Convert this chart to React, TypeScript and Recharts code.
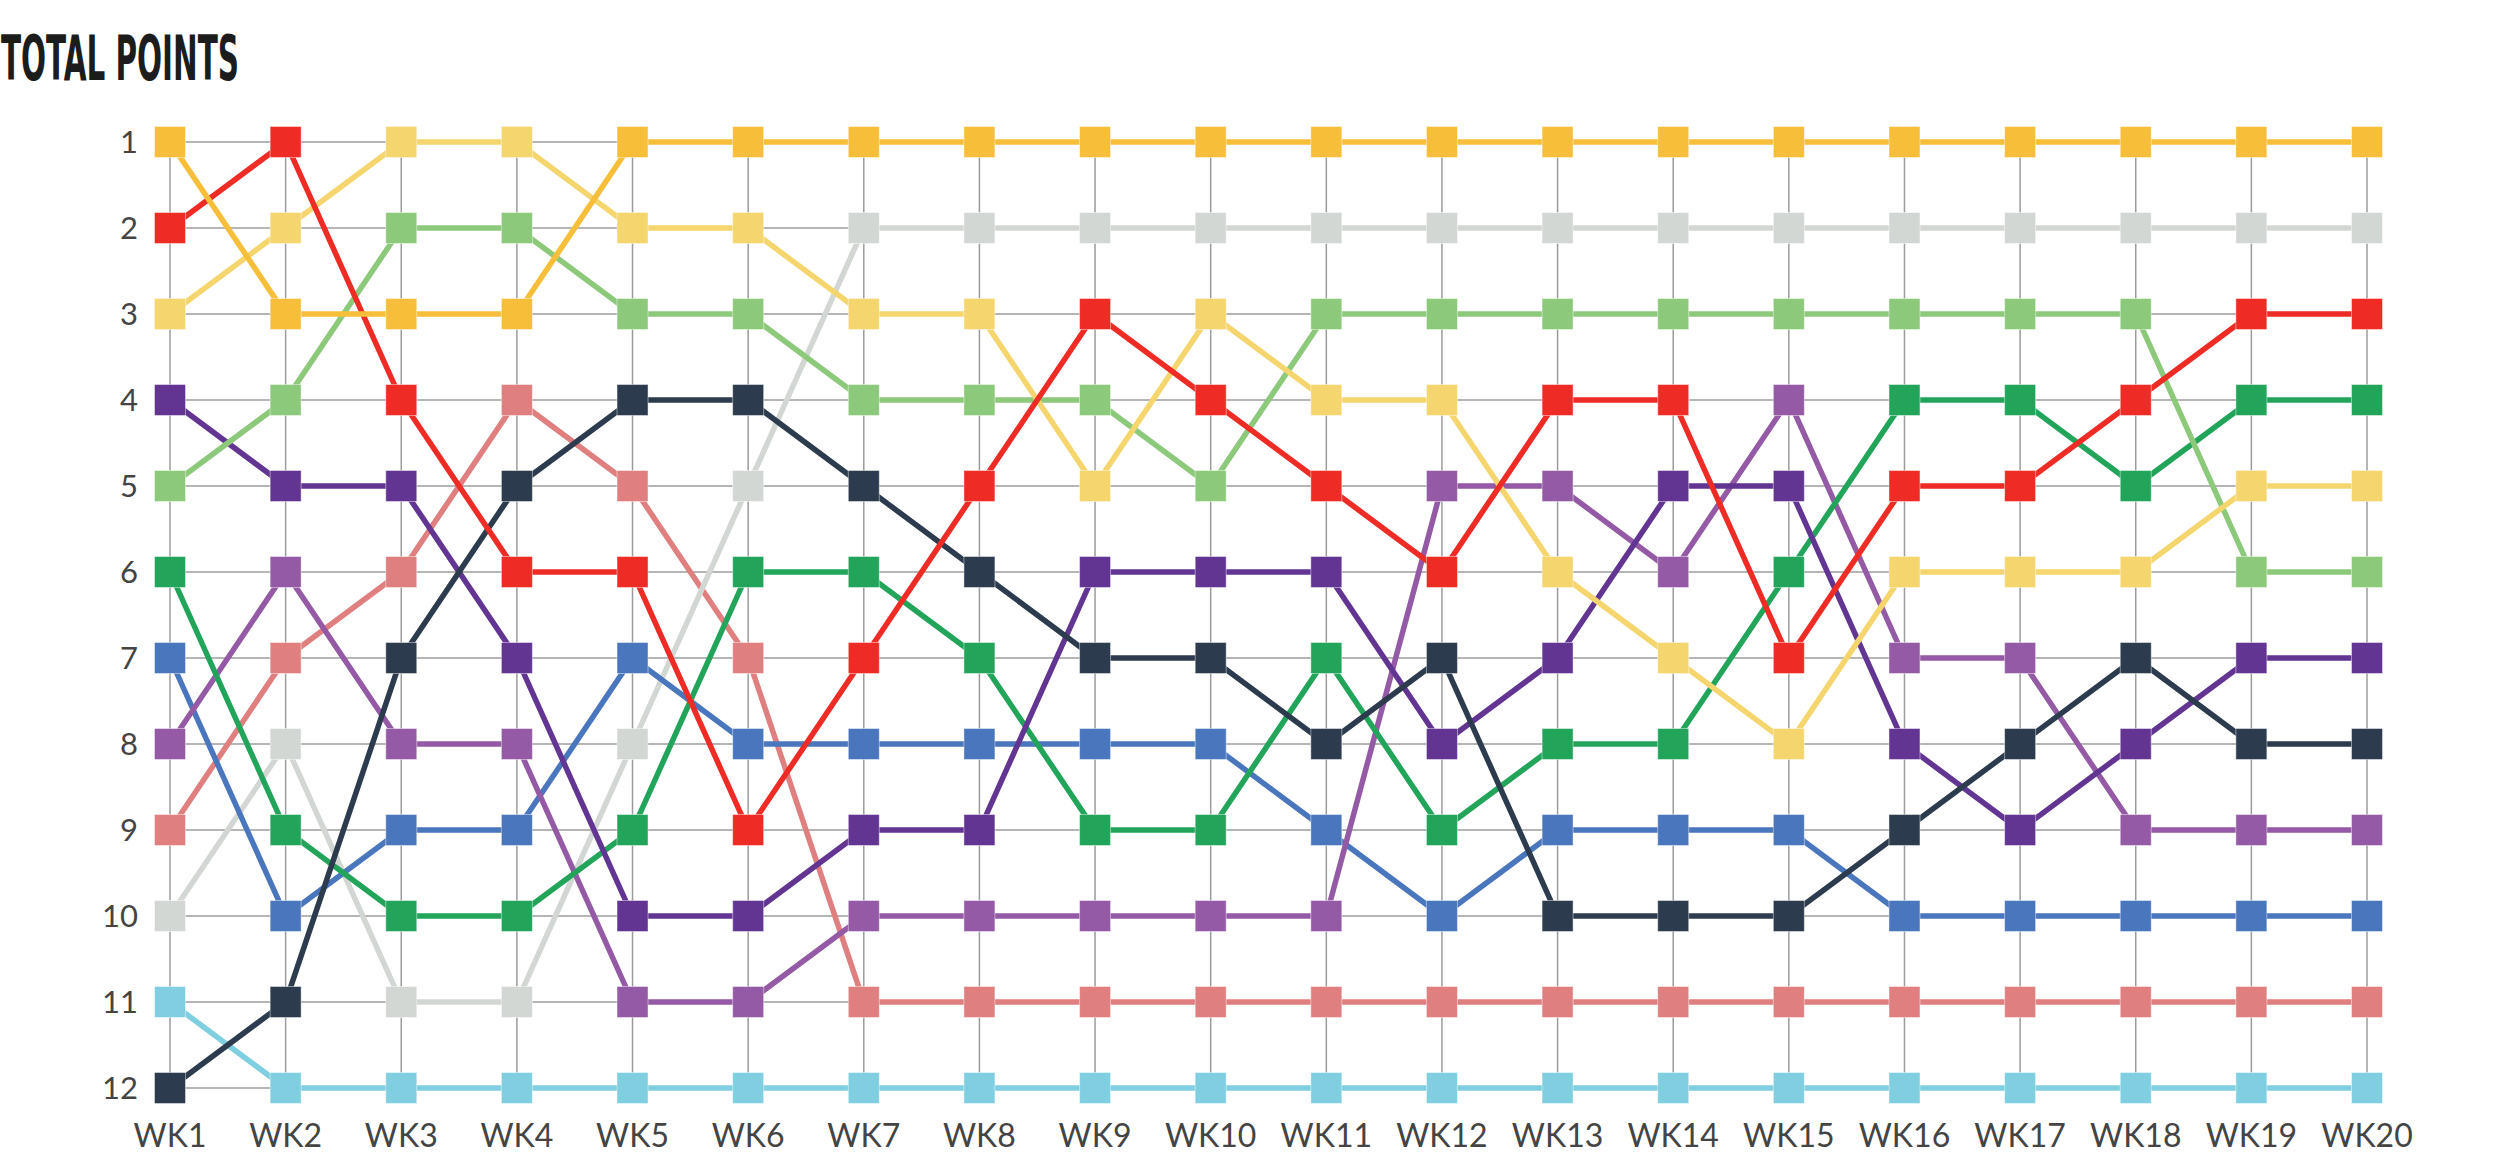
import React from "react";
import { LineChart, Line, XAxis, YAxis, CartesianGrid } from "recharts";

const weeks = ["WK1","WK2","WK3","WK4","WK5","WK6","WK7","WK8","WK9","WK10","WK11","WK12","WK13","WK14","WK15","WK16","WK17","WK18","WK19","WK20"];
const rankTicks = [1,2,3,4,5,6,7,8,9,10,11,12];

const gold = [1,3,3,3,1,1,1,1,1,1,1,1,1,1,1,1,1,1,1,1];
const yellow = [3,2,1,1,2,2,3,3,5,3,4,4,6,7,8,6,6,6,5,5];
const red = [2,1,4,6,6,9,7,5,3,4,5,6,4,4,7,5,5,4,3,3];
const lightGreen = [5,4,2,2,3,3,4,4,4,5,3,3,3,3,3,3,3,3,6,6];
const darkPurple = [4,5,5,7,10,10,9,9,6,6,6,8,7,5,5,8,9,8,7,7];
const darkGreen = [6,9,10,10,9,6,6,7,9,9,7,9,8,8,6,4,4,5,4,4];
const blue = [7,10,9,9,7,8,8,8,8,8,9,10,9,9,9,10,10,10,10,10];
const midPurple = [8,6,8,8,11,11,10,10,10,10,10,5,5,6,4,7,7,9,9,9];
const salmon = [9,7,6,4,5,7,11,11,11,11,11,11,11,11,11,11,11,11,11,11];
const gray = [10,8,11,11,8,5,2,2,2,2,2,2,2,2,2,2,2,2,2,2];
const lightBlue = [11,12,12,12,12,12,12,12,12,12,12,12,12,12,12,12,12,12,12,12];
const navy = [12,11,7,5,4,4,5,6,7,7,8,7,10,10,10,9,8,7,8,8];

const series = [
  { key: "lightBlue", values: lightBlue, color: "#7fcfe0" },
  { key: "salmon", values: salmon, color: "#e07f7f" },
  { key: "gray", values: gray, color: "#d3d7d4" },
  { key: "blue", values: blue, color: "#4a76bd" },
  { key: "midPurple", values: midPurple, color: "#955aa5" },
  { key: "darkGreen", values: darkGreen, color: "#22a55a" },
  { key: "darkPurple", values: darkPurple, color: "#633593" },
  { key: "navy", values: navy, color: "#2c3c4e" },
  { key: "lightGreen", values: lightGreen, color: "#8cc97b" },
  { key: "yellow", values: yellow, color: "#f5d56e" },
  { key: "red", values: red, color: "#ee2b24" },
  { key: "gold", values: gold, color: "#f7be3a" },
];

const data = weeks.map((wk, i) => {
  const row: Record<string, any> = { wk };
  series.forEach((s) => { row[s.key] = s.values[i]; });
  return row;
});

const makeDot = (color: string) => (props: any) => {
  const { cx, cy, index } = props;
  if (cx == null || cy == null) return <g key={`e-${index}`} />;
  return (
    <rect
      key={`d-${index}`}
      x={cx - 15.5}
      y={cy - 15.5}
      width={31}
      height={31}
      fill={color}
      stroke="rgba(255,255,255,0.45)"
      strokeWidth={1}
    />
  );
};

const font = "Lato, 'Noto Sans', sans-serif";

export default function App() {
  return (
    <div style={{ position: "absolute", left: 0, top: 0, width: 2500, height: 1167, background: "#fff" }}>
      <svg width={500} height={110} style={{ position: "absolute", left: 0, top: 0 }}>
        <text
          x={1}
          y={80}
          fontFamily="'Liberation Sans Narrow', 'DejaVu Sans Condensed', sans-serif"
          fontWeight={600}
          fontSize={62}
          fill="#1c1c1c"
          textLength={238}
          lengthAdjust="spacingAndGlyphs"
        >
          TOTAL POINTS
        </text>
      </svg>
      <div style={{ position: "absolute", left: 0, top: 0 }}>
        <LineChart
          width={2500}
          height={1167}
          data={data}
          margin={{ top: 142, right: 133, bottom: 19, left: 70 }}
        >
          <CartesianGrid stroke="#9c9c9c" strokeWidth={1.5} />
          <XAxis
            dataKey="wk"
            type="category"
            ticks={weeks}
            interval={0}
            height={60}
            padding={{ left: 0, right: 0 }}
            axisLine={false}
            tickLine={false}
            tickSize={0}
            tickMargin={36}
            tick={{ fill: "#444", fontSize: 32, fontFamily: font }}
          />
          <YAxis
            type="number"
            domain={[1, 12]}
            reversed
            ticks={rankTicks}
            interval={0}
            width={100}
            axisLine={false}
            tickLine={false}
            tickSize={0}
            tickMargin={32}
            tick={{ fill: "#444", fontSize: 31, fontFamily: font }}
          />
          {series.map((s) => (
            <Line
              key={s.key}
              dataKey={s.key}
              type="linear"
              stroke={s.color}
              strokeWidth={5.5}
              dot={makeDot(s.color)}
              activeDot={false}
              isAnimationActive={false}
            />
          ))}
        </LineChart>
      </div>
    </div>
  );
}
